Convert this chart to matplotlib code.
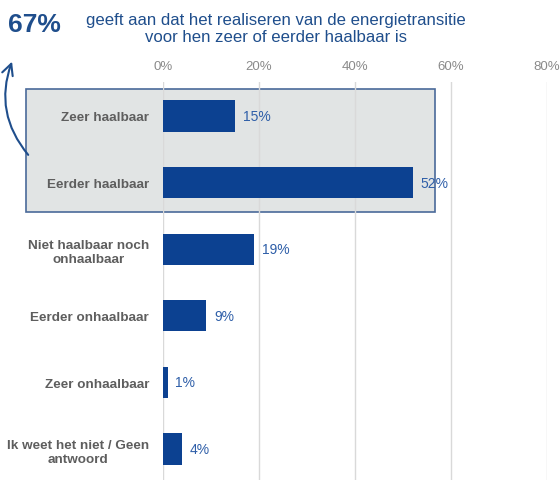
import matplotlib
matplotlib.use("Agg")
import matplotlib.pyplot as plt
from matplotlib.patches import Rectangle, FancyArrowPatch

categories = ["Zeer haalbaar", "Eerder haalbaar", "Niet haalbaar noch\nonhaalbaar",
              "Eerder onhaalbaar", "Zeer onhaalbaar", "Ik weet het niet / Geen\nantwoord"]
values = [15, 52, 19, 9, 1, 4]
xticks = [0, 20, 40, 60, 80]
xticklabels = ["0%", "20%", "40%", "60%", "80%"]
headline = "67%"
subtitle = "geeft aan dat het realiseren van de energietransitie\nvoor hen zeer of eerder haalbaar is"

plt.rcParams['font.family'] = ['Liberation Sans', 'DejaVu Sans']

W, H = 560, 481
fig = plt.figure(figsize=(W/100, H/100), dpi=100)
fig.patch.set_facecolor('white')
ax = fig.add_axes([163/W, 0, 384/W, (481-83)/H])

bar_color = '#0c4191'
text_blue = '#1f4e8c'
ypos = list(range(len(categories)))
ax.barh(ypos, values, height=0.47, color=bar_color, zorder=2)
for y, v in zip(ypos, values):
    ax.text(v + 1.6, y, f"{v}%", va='center', ha='left', fontsize=10, color='#2e5ea8', zorder=3)

ax.set_xlim(0, 80)
ax.set_ylim(5.465, -0.51)
ax.set_xticks(xticks)
ax.set_xticklabels(xticklabels, color='#8a8a8a', fontsize=9.5)
ax.xaxis.tick_top()
ax.tick_params(axis='x', length=0, pad=7)
ax.set_yticks(ypos)
ax.set_yticklabels(categories, fontsize=9.7, color='#5e5e5e', fontweight='bold',
                   multialignment='center', linespacing=1.25)
ax.tick_params(axis='y', length=0, pad=10)
for s in ax.spines.values():
    s.set_visible(False)
ax.grid(axis='x', color='#d9d9d9', linewidth=1)
ax.set_axisbelow(True)
ax.set_facecolor('none')

# highlight box
rect = Rectangle((-28.5, -0.405), 85.2, 1.845, facecolor='#e1e4e4', edgecolor='#4a6a9a',
                 linewidth=1.2, clip_on=False, zorder=0.2)
ax.add_patch(rect)

fig.text(8/W, 1 - 25/H, headline, fontsize=19, fontweight='bold', color=text_blue,
         ha='left', va='center')
fig.text(276/W, 1 - 29/H, subtitle, fontsize=12.1, color=text_blue, ha='center',
         va='center', linespacing=1.2)

arrow = FancyArrowPatch((30/W, 1 - 158/H), (13/W, 1 - 60/H), transform=fig.transFigure,
                        connectionstyle="arc3,rad=-0.3", arrowstyle='->,head_length=8,head_width=4',
                        color=text_blue, linewidth=1.5)
fig.add_artist(arrow)

fig.savefig('out.png', dpi=100)
